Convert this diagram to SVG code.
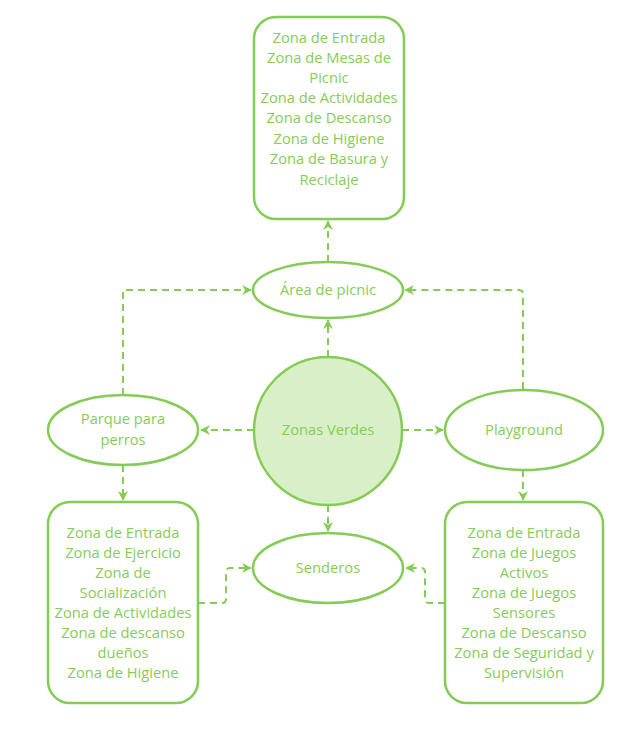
<svg xmlns="http://www.w3.org/2000/svg" width="637" height="730" viewBox="0 0 637 730">
<style>
.n{fill:#ffffff;stroke:#84cc56;stroke-width:2.5}
.c{fill:#d8efc8;stroke:#84cc56;stroke-width:2.5}
.t{font-family:"Open Sans","DejaVu Sans",sans-serif;font-size:14.7px;fill:#86cc5a;text-anchor:middle}
.e{fill:none;stroke:#84cc56;stroke-width:2;stroke-dasharray:7 5}
</style>
<defs>
<marker id="a" viewBox="0 0 10 10" refX="9" refY="5" markerWidth="10" markerHeight="10" markerUnits="userSpaceOnUse" orient="auto">
<path d="M0,0 L10,5 L0,10 L3,5 Z" fill="#84cc56"/>
</marker>
</defs>
<rect width="637" height="730" fill="#ffffff"/>
<g id="connectors">
<path class="e" d="M328,357 V320" marker-end="url(#a)"/>
<path class="e" d="M328,262 V221" marker-end="url(#a)"/>
<path class="e" d="M254,430 H201" marker-end="url(#a)"/>
<path class="e" d="M402,430 H443" marker-end="url(#a)"/>
<path class="e" d="M328,505 V531" marker-end="url(#a)"/>
<path class="e" d="M123,395 V290 H251" marker-end="url(#a)"/>
<path class="e" d="M523,389 V294 Q523,290 519,290 H405" marker-end="url(#a)"/>
<path class="e" d="M123,465 V500" marker-end="url(#a)"/>
<path class="e" d="M523,470 V500" marker-end="url(#a)"/>
<path class="e" d="M198,603 H222 Q226,603 226,599 V572 Q226,568 230,568 H251" marker-end="url(#a)"/>
<path class="e" d="M445,603 H429 Q425,603 425,599 V572 Q425,568 421,568 H406" marker-end="url(#a)"/>
</g>
<g id="picnic-zonas">
<rect class="n" x="254" y="17" width="150" height="202" rx="22"/>
<text class="t" x="329" y="43">Zona de Entrada</text>
<text class="t" x="329" y="63">Zona de Mesas de</text>
<text class="t" x="329" y="83">Picnic</text>
<text class="t" x="329" y="103">Zona de Actividades</text>
<text class="t" x="329" y="123">Zona de Descanso</text>
<text class="t" x="329" y="144">Zona de Higiene</text>
<text class="t" x="329" y="164">Zona de Basura y</text>
<text class="t" x="329" y="185">Reciclaje</text>
</g>
<g id="area-picnic">
<ellipse class="n" cx="328" cy="290" rx="75" ry="28"/>
<text class="t" x="328" y="295">Área de picnic</text>
</g>
<g id="zonas-verdes">
<circle class="c" cx="328" cy="431" r="74"/>
<text class="t" x="328" y="435">Zonas Verdes</text>
</g>
<g id="parque-perros">
<ellipse class="n" cx="123" cy="430" rx="75" ry="35"/>
<text class="t" x="123" y="424">Parque para</text>
<text class="t" x="123" y="445">perros</text>
</g>
<g id="playground">
<ellipse class="n" cx="524" cy="430" rx="79" ry="40"/>
<text class="t" x="524" y="435">Playground</text>
</g>
<g id="senderos">
<ellipse class="n" cx="328" cy="568" rx="75" ry="35"/>
<text class="t" x="328" y="573">Senderos</text>
</g>
<g id="perros-zonas">
<rect class="n" x="48" y="502" width="150" height="201" rx="22"/>
<text class="t" x="123" y="538">Zona de Entrada</text>
<text class="t" x="123" y="558">Zona de Ejercicio</text>
<text class="t" x="123" y="578">Zona de</text>
<text class="t" x="123" y="598">Socialización</text>
<text class="t" x="123" y="618">Zona de Actividades</text>
<text class="t" x="123" y="638">Zona de descanso</text>
<text class="t" x="123" y="658">dueños</text>
<text class="t" x="123" y="678">Zona de Higiene</text>
</g>
<g id="playground-zonas">
<rect class="n" x="445" y="502" width="158" height="201" rx="22"/>
<text class="t" x="524" y="538">Zona de Entrada</text>
<text class="t" x="524" y="558">Zona de Juegos</text>
<text class="t" x="524" y="578">Activos</text>
<text class="t" x="524" y="598">Zona de Juegos</text>
<text class="t" x="524" y="618">Sensores</text>
<text class="t" x="524" y="638">Zona de Descanso</text>
<text class="t" x="524" y="658">Zona de Seguridad y</text>
<text class="t" x="524" y="678">Supervisión</text>
</g>
</svg>
